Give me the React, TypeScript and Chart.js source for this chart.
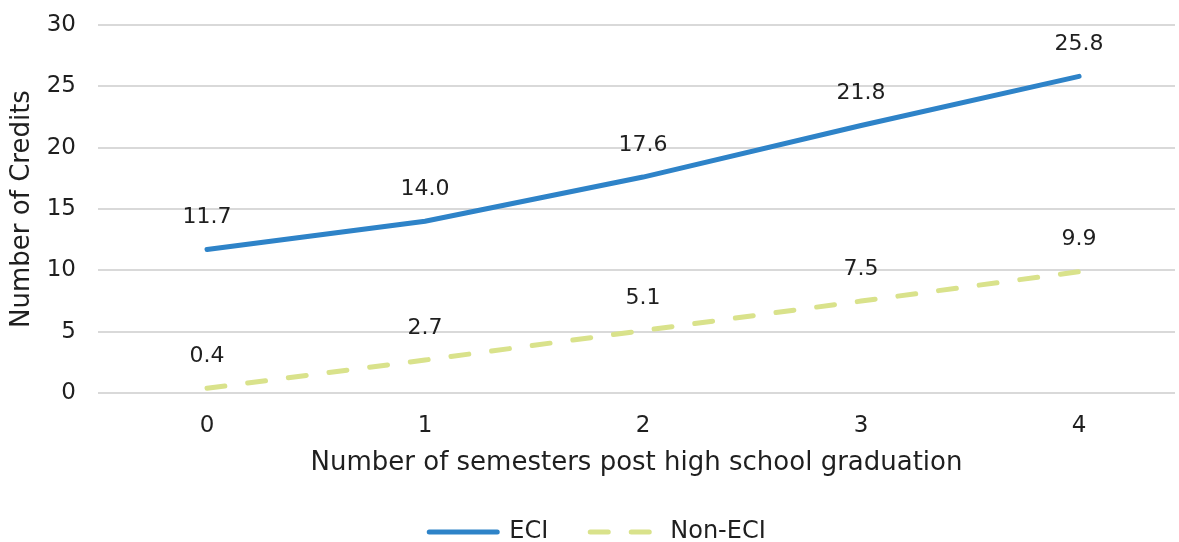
import React, { useEffect, useRef } from "react";
import { Chart, registerables } from "chart.js";

Chart.register(...registerables);

const semesters = [0, 1, 2, 3, 4];
const eciCredits = [11.7, 14.0, 17.6, 21.8, 25.8];
const nonEciCredits = [0.4, 2.7, 5.1, 7.5, 9.9];
const yTicks = [0, 5, 10, 15, 20, 25, 30];

const FONT = "'DejaVu Sans', sans-serif";
const TEXT = "#1f1f1f";
const DASH = [18, 23];

const labelPlugin = {
  id: "valueLabels",
  afterDatasetsDraw(chart: any) {
    const ctx = chart.ctx;
    ctx.save();
    ctx.font = `22px ${FONT}`;
    ctx.fillStyle = TEXT;
    ctx.textAlign = "center";
    ctx.textBaseline = "middle";
    chart.data.datasets.forEach((ds: any, di: number) => {
      const meta = chart.getDatasetMeta(di);
      meta.data.forEach((pt: any, i: number) => {
        const v = ds.data[i].y;
        ctx.fillText(v.toFixed(1), pt.x, pt.y - 32);
      });
    });
    ctx.restore();
  },
};

export default function App() {
  const ref = useRef<HTMLCanvasElement>(null);
  useEffect(() => {
    const chart = new Chart(ref.current!, {
      type: "line",
      data: {
        datasets: [
          {
            label: "ECI",
            data: semesters.map((s, i) => ({ x: s, y: eciCredits[i] })),
            borderColor: "#2E83C8",
            backgroundColor: "#2E83C8",
            borderWidth: 5,
            pointRadius: 0,
            borderCapStyle: "round",
            tension: 0,
          },
          {
            label: "Non-ECI",
            data: semesters.map((s, i) => ({ x: s, y: nonEciCredits[i] })),
            borderColor: "#D9E28B",
            backgroundColor: "#D9E28B",
            borderWidth: 5,
            borderDash: DASH,
            borderCapStyle: "round",
            pointRadius: 0,
            tension: 0,
          },
        ],
      },
      options: {
        animation: false,
        responsive: true,
        maintainAspectRatio: false,
        layout: { padding: { top: 0, right: 4, bottom: -12, left: 20 } },
        scales: {
          x: {
            type: "linear",
            min: -0.5,
            max: 4.44,
            afterBuildTicks: (scale: any) => {
              scale.ticks = semesters.map((v) => ({ value: v }));
            },
            grid: { display: false },
            border: { display: false },
            ticks: {
              font: { family: FONT, size: 23 },
              color: TEXT,
              padding: 11,
              callback: (v: any) => String(v),
            },
            title: {
              display: true,
              text: "Number of semesters post high school graduation",
              font: { family: FONT, size: 26 },
              color: TEXT,
              padding: { top: -3, bottom: -1 },
            },
          },
          y: {
            min: 0,
            max: 30,
            afterBuildTicks: (scale: any) => {
              scale.ticks = yTicks.map((v) => ({ value: v }));
            },
            afterFit: (scale: any) => {
              scale.width = 78;
            },
            grid: { color: "#d9d9d9", lineWidth: 2, drawTicks: false },
            border: { display: false },
            ticks: {
              font: { family: FONT, size: 23 },
              color: TEXT,
              padding: 22,
            },
            title: {
              display: true,
              text: "Number of Credits",
              font: { family: FONT, size: 26 },
              color: TEXT,
              padding: { top: -13, bottom: 4 },
            },
          },
        },
        plugins: {
          legend: {
            position: "bottom",
            labels: {
              usePointStyle: true,
              pointStyle: "line",
              pointStyleWidth: 68,
              font: { family: FONT, size: 24 },
              color: TEXT,
              padding: 42,
              generateLabels: (c: any) => {
                const items = Chart.defaults.plugins.legend.labels.generateLabels(c);
                items.forEach((it: any, i: number) => {
                  const ds: any = c.data.datasets[i];
                  it.lineDash = ds.borderDash || [];
                  it.lineCap = "round";
                  it.lineWidth = 5;
                  it.strokeStyle = ds.borderColor;
                  it.fillStyle = ds.borderColor;
                });
                return items;
              },
            },
          },
          tooltip: { enabled: false },
        },
      },
      plugins: [labelPlugin],
    });
    return () => chart.destroy();
  }, []);
  return (
    <div style={{ position: "fixed", left: 0, top: -11, width: 1179, height: 553 }}>
      <canvas ref={ref} />
    </div>
  );
}
